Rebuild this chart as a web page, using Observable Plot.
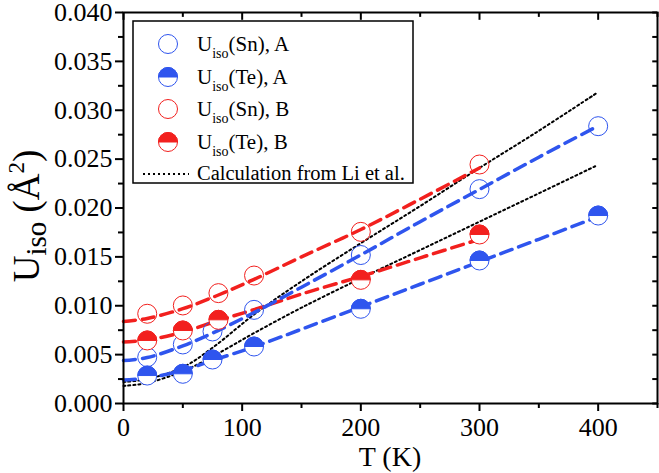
<!DOCTYPE html>
<html><head><meta charset="utf-8">
<script src="https://cdn.jsdelivr.net/npm/d3@7"></script>
<script src="https://cdn.jsdelivr.net/npm/@observablehq/plot@0.6"></script>
<style>
body{margin:0;background:#fff;}
#wrap{position:relative;width:659px;height:473px;}
#wrap > svg{display:block;}
#overlay{position:absolute;left:0;top:0;pointer-events:none;}
</style></head><body><div id="wrap"></div>
<script>
// ---- data ----
const tA = [20, 50, 75, 110, 200, 300, 400];
const snA = [0.00474, 0.00604, 0.00737, 0.00958, 0.01519, 0.02193, 0.02837];
const teA = [0.00286, 0.00304, 0.00450, 0.00583, 0.00969, 0.01463, 0.01923];
const tSnB = [20, 50, 80, 110, 200, 300];
const snB = [0.00918, 0.01003, 0.01129, 0.01309, 0.01756, 0.02445];
const tTeB = [20, 50, 80, 200, 300];
const teB = [0.00645, 0.00747, 0.00856, 0.01265, 0.01729];

// fitted (dashed) curves
const fitTA = [0, 20, 50, 75, 110, 150, 200, 250, 300, 350, 400];
const fitSnA = [0.0044, 0.0047, 0.0059, 0.0072, 0.0093, 0.0119, 0.0152, 0.0186, 0.0219, 0.0252, 0.0284];
const fitTeA = [0.0024, 0.0026, 0.0034, 0.0044, 0.0058, 0.0076, 0.0099, 0.0122, 0.0145, 0.0168, 0.0191];
const fitTB = [0, 20, 50, 80, 110, 150, 200, 250, 300];
const fitSnB = [0.0084, 0.0087, 0.0097, 0.0111, 0.0127, 0.0150, 0.0178, 0.0209, 0.0241];
const fitTeB = [0.0063, 0.0065, 0.0073, 0.0085, 0.0096, 0.0112, 0.0130, 0.0149, 0.0168];

// calculation from Li et al. (dotted)
const calcT = [0, 20, 50, 75, 110, 150, 200, 250, 300, 350, 398];
const calcUpper = [0.0022, 0.0025, 0.0037, 0.0057, 0.0091, 0.0125, 0.0164, 0.0202, 0.0241, 0.0279, 0.0317];
const calcLower = [0.0018, 0.0021, 0.0033, 0.0048, 0.0072, 0.0098, 0.0128, 0.0157, 0.0186, 0.0215, 0.0243];

const xMajor = [0, 100, 200, 300, 400];
const xMinor = [50, 150, 250, 350, 450];
const yMajor = [0, 0.005, 0.01, 0.015, 0.02, 0.025, 0.03, 0.035, 0.04];
const yMinor = [0.0025, 0.0075, 0.0125, 0.0175, 0.0225, 0.0275, 0.0325, 0.0375];

const legendLabels = [
  ["(Sn), A", "open", "blue"],
  ["(Te), A", "half", "blue"],
  ["(Sn), B", "open", "red"],
  ["(Te), B", "half", "red"]
];
const calcLabel = "Calculation from Li et al.";

// ---- styles ----
const BLUE = "#2f55ee";
const RED = "#f2201e";
const FONT = "Liberation Serif, Times New Roman, serif";

const zip = (xs, ys) => xs.map((x, i) => ({x, y: ys[i]}));

const circleSym = {draw(ctx, size) { const r = Math.sqrt(size / Math.PI); ctx.moveTo(r, 0); ctx.arc(0, 0, r, 0, 2 * Math.PI); ctx.closePath(); }};
const halfSym = {draw(ctx, size) { const r = Math.sqrt(size / Math.PI); ctx.moveTo(-r, 0); ctx.arc(0, 0, r, Math.PI, 2 * Math.PI); ctx.closePath(); }};

const R = 9.5;
const dashed = (xs, ys, color) => Plot.line(zip(xs, ys), {x: "x", y: "y", stroke: color, strokeWidth: 3.5, strokeDasharray: "12,7", curve: "catmull-rom"});
const dotted = (xs, ys) => Plot.line(zip(xs, ys), {x: "x", y: "y", stroke: "#000", strokeWidth: 2, strokeDasharray: "2,3", curve: "catmull-rom"});
const openDots = (xs, ys, color) => Plot.dot(zip(xs, ys), {x: "x", y: "y", r: R, symbol: circleSym, stroke: color, fill: "none", strokeWidth: 1});
const halfDots = (xs, ys, color) => [
  Plot.dot(zip(xs, ys), {x: "x", y: "y", r: R, symbol: circleSym, stroke: color, fill: "white", strokeWidth: 1}),
  Plot.dot(zip(xs, ys), {x: "x", y: "y", r: R, symbol: halfSym, stroke: color, fill: color, strokeWidth: 1})
];

const chart = Plot.plot({
  width: 659, height: 473,
  marginLeft: 123, marginRight: 2, marginTop: 12, marginBottom: 70,
  style: {fontFamily: FONT, background: "white", overflow: "visible"},
  x: {domain: [0, 450]},
  y: {domain: [0, 0.04]},
  marks: [
    dotted(calcT, calcUpper),
    dotted(calcT, calcLower),
    dashed(fitTB, fitSnB, RED),
    dashed(fitTB, fitTeB, RED),
    dashed(fitTA, fitSnA, BLUE),
    dashed(fitTA, fitTeA, BLUE),
    openDots(tA, snA, BLUE),
    halfDots(tA, teA, BLUE),
    openDots(tSnB, snB, RED),
    halfDots(tTeB, teB, RED),
    Plot.axisX({ticks: xMajor, tickSize: 8, tickPadding: 6, tickFormat: d => String(d), fontSize: 26, strokeWidth: 2, label: null, color: "#000"}),
    Plot.axisX({ticks: xMinor, tickSize: 5, tickFormat: () => "", strokeWidth: 2, label: null}),
    Plot.axisY({ticks: yMajor, tickSize: 8, tickPadding: 3, tickFormat: d3.format(".3f"), fontSize: 26, strokeWidth: 2, label: null, color: "#000"}),
    Plot.axisY({ticks: yMinor, tickSize: 5, tickFormat: () => "", strokeWidth: 2, label: null}),
    Plot.ruleX(xMajor, {x: d => d, y1: 0.04, y2: 0.04 - 0.0008, strokeWidth: 2}),
    Plot.ruleX(xMinor, {x: d => d, y1: 0.04, y2: 0.04 - 0.0005, strokeWidth: 2}),
    Plot.ruleY(yMajor.concat(yMinor), {y: d => d, x1: 450, x2: 450 - 4, strokeWidth: 2}),
    Plot.frame({stroke: "#000", strokeWidth: 2})
  ]
});
document.getElementById("wrap").appendChild(chart);

// ---- overlay: axis titles and legend ----
const ov = d3.select("#wrap").append("svg").attr("id", "overlay").attr("width", 659).attr("height", 473)
  .attr("font-family", FONT).attr("fill", "#000");

// x title
ov.append("text").attr("x", 390).attr("y", 466).attr("text-anchor", "middle").attr("font-size", 28).text("T (K)");
// y title
const yt = ov.append("text").attr("transform", "translate(39,216) rotate(-90)").attr("text-anchor", "middle").attr("font-size", 37);
yt.append("tspan").text("U");
yt.append("tspan").attr("font-size", 29).attr("dy", 7).text("iso");
yt.append("tspan").attr("dy", -7).text(" (Å");
yt.append("tspan").attr("font-size", 23).attr("dy", -15).text("2");
yt.append("tspan").attr("dy", 15).text(")");

// legend
ov.append("rect").attr("x", 133).attr("y", 21).attr("width", 280).attr("height", 162)
  .attr("fill", "white").attr("stroke", "#000").attr("stroke-width", 1.5);
const rowY = [44, 77, 109, 142];
legendLabels.forEach(([lab, kind, col], i) => {
  const c = col === "blue" ? BLUE : RED;
  const cy = rowY[i];
  if (kind === "open") {
    ov.append("circle").attr("cx", 168).attr("cy", cy).attr("r", R).attr("fill", "none").attr("stroke", c).attr("stroke-width", 1);
  } else {
    ov.append("circle").attr("cx", 168).attr("cy", cy).attr("r", R).attr("fill", "white").attr("stroke", c).attr("stroke-width", 1);
    ov.append("path").attr("d", `M${168 - R},${cy}A${R},${R} 0 0 1 ${168 + R},${cy}Z`).attr("fill", c).attr("stroke", c).attr("stroke-width", 1);
  }
  const t = ov.append("text").attr("x", 197).attr("y", cy + 7).attr("font-size", 21);
  t.append("tspan").text("U");
  t.append("tspan").attr("font-size", 14).attr("dy", 7).text("iso");
  t.append("tspan").attr("dy", -7).text(lab);
});
ov.append("line").attr("x1", 143).attr("x2", 189).attr("y1", 174).attr("y2", 174)
  .attr("stroke", "#000").attr("stroke-width", 2).attr("stroke-dasharray", "2,3");
ov.append("text").attr("x", 197).attr("y", 180).attr("font-size", 20.5).text(calcLabel);
</script></body></html>
